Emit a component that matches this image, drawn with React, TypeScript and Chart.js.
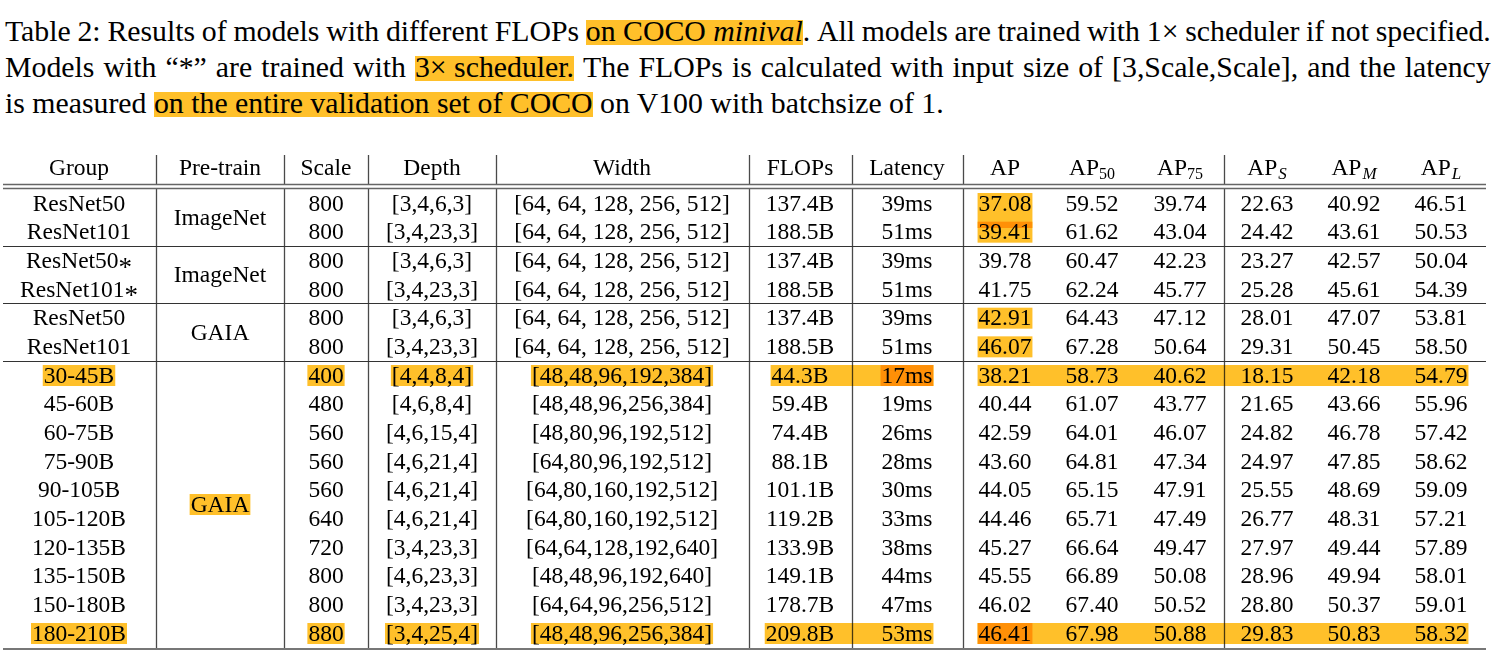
import React, { useEffect, useRef } from "react";
import { Chart, registerables } from "chart.js";
Chart.register(...registerables);

// ---------------- data ----------------
const headerLabels = ["Group", "Pre-train", "Scale", "Depth", "Width", "FLOPs", "Latency", "AP", "AP", "AP", "AP", "AP", "AP"];
const headerSubscripts = ["", "", "", "", "", "", "", "", "50", "75", "S", "M", "L"];
const headerSubItalic = [false, false, false, false, false, false, false, false, false, false, true, true, true];

const groupNames = ["ResNet50", "ResNet101", "ResNet50*", "ResNet101*", "ResNet50", "ResNet101",
  "30-45B", "45-60B", "60-75B", "75-90B", "90-105B", "105-120B", "120-135B", "135-150B", "150-180B", "180-210B"];
const pretrainNames = ["ImageNet", "ImageNet", "GAIA", "GAIA"];
const blockSpans = [[0, 1], [2, 3], [4, 5], [6, 15]];
const scaleValues = ["800", "800", "800", "800", "800", "800", "400", "480", "560", "560", "560", "640", "720", "800", "800", "880"];
const depthValues = ["[3,4,6,3]", "[3,4,23,3]", "[3,4,6,3]", "[3,4,23,3]", "[3,4,6,3]", "[3,4,23,3]",
  "[4,4,8,4]", "[4,6,8,4]", "[4,6,15,4]", "[4,6,21,4]", "[4,6,21,4]", "[4,6,21,4]", "[3,4,23,3]", "[4,6,23,3]", "[3,4,23,3]", "[3,4,25,4]"];
const widthValues = ["[64, 64, 128, 256, 512]", "[64, 64, 128, 256, 512]", "[64, 64, 128, 256, 512]", "[64, 64, 128, 256, 512]",
  "[64, 64, 128, 256, 512]", "[64, 64, 128, 256, 512]",
  "[48,48,96,192,384]", "[48,48,96,256,384]", "[48,80,96,192,512]", "[64,80,96,192,512]", "[64,80,160,192,512]",
  "[64,80,160,192,512]", "[64,64,128,192,640]", "[48,48,96,192,640]", "[64,64,96,256,512]", "[48,48,96,256,384]"];
const flopsValues = ["137.4B", "188.5B", "137.4B", "188.5B", "137.4B", "188.5B", "44.3B", "59.4B", "74.4B", "88.1B",
  "101.1B", "119.2B", "133.9B", "149.1B", "178.7B", "209.8B"];
const latencyValues = ["39ms", "51ms", "39ms", "51ms", "39ms", "51ms", "17ms", "19ms", "26ms", "28ms", "30ms", "33ms",
  "38ms", "44ms", "47ms", "53ms"];
const apValues = ["37.08", "39.41", "39.78", "41.75", "42.91", "46.07", "38.21", "40.44", "42.59", "43.60", "44.05", "44.46", "45.27", "45.55", "46.02", "46.41"];
const ap50Values = ["59.52", "61.62", "60.47", "62.24", "64.43", "67.28", "58.73", "61.07", "64.01", "64.81", "65.15", "65.71", "66.64", "66.89", "67.40", "67.98"];
const ap75Values = ["39.74", "43.04", "42.23", "45.77", "47.12", "50.64", "40.62", "43.77", "46.07", "47.34", "47.91", "47.49", "49.47", "50.08", "50.52", "50.88"];
const apSValues = ["22.63", "24.42", "23.27", "25.28", "28.01", "29.31", "18.15", "21.65", "24.82", "24.97", "25.55", "26.77", "27.97", "28.96", "28.80", "29.83"];
const apMValues = ["40.92", "43.61", "42.57", "45.61", "47.07", "50.45", "42.18", "43.66", "46.78", "47.85", "48.69", "48.31", "49.44", "49.94", "50.37", "50.83"];
const apLValues = ["46.51", "50.53", "50.04", "54.39", "53.81", "58.50", "54.79", "55.96", "57.42", "58.62", "59.09", "57.21", "57.89", "58.01", "59.01", "58.32"];

// highlighted cells: column index, item index in that column, optional band end column
const highlightMarks = [
  { col: 7, idx: 0, extraBottom: 14 }, { col: 7, idx: 1 }, { col: 7, idx: 4 }, { col: 7, idx: 5 },
  { col: 0, idx: 6 }, { col: 2, idx: 6 }, { col: 3, idx: 6 }, { col: 4, idx: 6 },
  { col: 5, idx: 6, toCol: 6 }, { col: 6, idx: 6 }, { col: 7, idx: 6, toCol: 12 },
  { col: 0, idx: 15 }, { col: 2, idx: 15 }, { col: 3, idx: 15 }, { col: 4, idx: 15 },
  { col: 5, idx: 15, toCol: 6 }, { col: 7, idx: 15 }, { col: 7, idx: 15, toCol: 12 },
  { col: 1, idx: 3 },
];

// caption (words of the justified lines; highlighted phrases kept whole)
const captionLine1 = ["Table", "2:", "Results", "of", "models", "with", "different", "FLOPs", "#on COCO |minival|#.", "All", "models", "are", "trained", "with", "1×", "scheduler", "if", "not", "specified."];
const captionLine2 = ["Models", "with", "“*”", "are", "trained", "with", "#3× scheduler.#", "The", "FLOPs", "is", "calculated", "with", "input", "size", "of", "[3,Scale,Scale],", "and", "the", "latency"];
const captionLine3 = ["is measured ", "#on the entire validation set of COCO#", " on V100 with batchsize of 1."];

// ---------------- layout / style ----------------
const W = 1498;
const CANVAS_TOP = 140;
const CANVAS_H = 524;
const COL_X = [79, 220, 326, 432, 622, 800, 907, 1005, 1092, 1180, 1267, 1354, 1441];
const COL_RULES = [156, 284, 368, 496, 749, 852, 963, 1224];
const HEADER_Y = -1.25;
const RULE_TOP = -1.674;
const DOUBLE_A = -0.663;
const DOUBLE_B = -0.523;
const BOTTOM_Y = 15.56;
const LINE_LEFT = 3;
const LINE_RIGHT = 1486;
const FS = 23.5;
const FONT = `${FS}px "Liberation Serif", "Times New Roman", serif`;
const HL = "#FFC02A";
const CAPTION_FS = 29.8;

const columns = [groupNames, pretrainNames, scaleValues, depthValues, widthValues, flopsValues, latencyValues,
  apValues, ap50Values, ap75Values, apSValues, apMValues, apLValues];

function rowPositions(col: number, n: number) {
  if (col === 1) return blockSpans.map(([a, b]) => (a + b) / 2);
  return Array.from({ length: n }, (_, i) => i);
}

const datasets: any[] = columns.map((vals, c) => {
  const ys = rowPositions(c, vals.length);
  return {
    label: headerLabels[c],
    data: vals.map((_, i) => ({ x: COL_X[c], y: ys[i] })),
    texts: vals,
    pointRadius: 0,
    pointHoverRadius: 0,
  };
});
datasets.push({
  label: "header",
  data: headerLabels.map((_, c) => ({ x: COL_X[c], y: HEADER_Y })),
  texts: headerLabels,
  subs: headerSubscripts,
  pointRadius: 0,
  pointHoverRadius: 0,
});

function drawBodyText(ctx: CanvasRenderingContext2D, t: string, cx: number, base: number) {
  ctx.font = FONT;
  if (t.endsWith("*")) {
    const main = t.slice(0, -1);
    const w1 = ctx.measureText(main).width;
    ctx.font = `27px "Liberation Serif", serif`;
    const w2 = ctx.measureText("*").width;
    const x0 = cx - (w1 + w2) / 2;
    ctx.textAlign = "left";
    ctx.font = FONT;
    ctx.fillText(main, x0, base);
    ctx.font = `27px "Liberation Serif", serif`;
    ctx.fillText("*", x0 + w1, base + 7.5);
    return;
  }
  ctx.textAlign = "center";
  ctx.fillText(t, cx, base);
}

const tablePlugin = {
  id: "tablePlugin",
  beforeDatasetsDraw(chart: any) {
    const ctx: CanvasRenderingContext2D = chart.ctx;
    const ys = chart.scales.y;
    const py = (v: number) => ys.getPixelForValue(v);
    ctx.save();
    ctx.strokeStyle = "#4a4a4a";
    ctx.lineWidth = 1.3;
    COL_RULES.forEach((x) => {
      const xx = Math.round(x) + 0.5;
      ctx.beginPath();
      ctx.moveTo(xx, py(RULE_TOP));
      ctx.lineTo(xx, py(DOUBLE_A));
      ctx.moveTo(xx, py(DOUBLE_B));
      ctx.lineTo(xx, py(BOTTOM_Y));
      ctx.stroke();
    });
    ctx.strokeStyle = "#666";
    ctx.lineWidth = 1.5;
    [DOUBLE_A, DOUBLE_B].forEach((v) => {
      const y = Math.round(py(v)) + 0.5;
      ctx.beginPath();
      ctx.moveTo(LINE_LEFT, y);
      ctx.lineTo(LINE_RIGHT, y);
      ctx.stroke();
    });
    ctx.strokeStyle = "#333";
    ctx.lineWidth = 1.2;
    blockSpans.slice(0, -1).forEach(([, b]) => {
      const y = Math.round(py(b + 0.5)) + 0.5;
      ctx.beginPath();
      ctx.moveTo(LINE_LEFT, y);
      ctx.lineTo(LINE_RIGHT, y);
      ctx.stroke();
    });
    ctx.strokeStyle = "#777";
    ctx.lineWidth = 2;
    const yb = Math.round(py(BOTTOM_Y));
    ctx.beginPath();
    ctx.moveTo(LINE_LEFT, yb);
    ctx.lineTo(LINE_RIGHT, yb);
    ctx.stroke();

    ctx.font = FONT;
    ctx.globalCompositeOperation = "multiply";
    ctx.fillStyle = HL;
    const extent = (c: number, i: number) => {
      const el = chart.getDatasetMeta(c).data[i];
      const t = chart.data.datasets[c].texts[i];
      const w = ctx.measureText(t).width;
      return { l: el.x - w / 2, r: el.x + w / 2, y: el.y };
    };
    highlightMarks.forEach((m: any) => {
      const a = extent(m.col, m.idx);
      const b = m.toCol !== undefined ? extent(m.toCol, m.idx) : a;
      const top = a.y - 10;
      const bottom = a.y + 11 + (m.extraBottom || 0);
      ctx.fillRect(a.l - 1, top, b.r - a.l + 2, bottom - top);
    });
    ctx.restore();
  },
  afterDatasetsDraw(chart: any) {
    const ctx: CanvasRenderingContext2D = chart.ctx;
    ctx.save();
    ctx.fillStyle = "#000";
    ctx.textBaseline = "alphabetic";
    chart.data.datasets.forEach((ds: any, di: number) => {
      const meta = chart.getDatasetMeta(di);
      meta.data.forEach((el: any, i: number) => {
        const t = ds.texts[i];
        const sub = ds.subs ? ds.subs[i] : "";
        const base = el.y + 0.33 * FS;
        if (!sub) {
          drawBodyText(ctx, t, el.x, base);
        } else {
          const subFont = `${headerSubItalic[i] ? "italic " : ""}${headerSubItalic[i] ? 17 : 16}px "Liberation Serif", serif`;
          ctx.font = FONT;
          const w1 = ctx.measureText(t).width;
          ctx.font = subFont;
          const w2 = ctx.measureText(sub).width;
          const gap = headerSubItalic[i] ? 1 : 0;
          const x0 = el.x - (w1 + w2 + gap) / 2;
          ctx.textAlign = "left";
          ctx.font = FONT;
          ctx.fillText(t, x0, base);
          ctx.font = subFont;
          ctx.fillText(sub, x0 + w1 + gap, base + 4);
        }
      });
    });
    ctx.restore();
  },
};

const markStyle: React.CSSProperties = {
  background: `linear-gradient(to bottom, transparent 6px, ${HL} 6px, ${HL} 31.5px, transparent 31.5px)`,
};

// "#...#" marks a highlighted phrase, "|...|" italic
function renderWord(w: string, key: number) {
  const parts = w.split("#");
  return (
    <span key={key}>
      {parts.map((p, i) => {
        const inner = p.split("|").map((q, j) => (j % 2 === 1 ? <i key={j}>{q}</i> : <React.Fragment key={j}>{q}</React.Fragment>));
        return i % 2 === 1 ? <span key={i} style={markStyle}>{inner}</span> : <React.Fragment key={i}>{inner}</React.Fragment>;
      })}
    </span>
  );
}

export default function App() {
  const ref = useRef<HTMLCanvasElement>(null);
  useEffect(() => {
    const chart = new Chart(ref.current as HTMLCanvasElement, {
      type: "scatter",
      data: { datasets },
      options: {
        responsive: false,
        animation: false,
        devicePixelRatio: 1,
        events: [],
        layout: { padding: 0 },
        plugins: { legend: { display: false }, tooltip: { enabled: false }, title: { display: false } },
        scales: {
          x: { type: "linear", min: 0, max: W, display: false },
          y: { type: "linear", min: -2.198, max: 16.081, reverse: true, display: false },
        },
      },
      plugins: [tablePlugin],
    } as any);
    return () => chart.destroy();
  }, []);

  const flexLine: React.CSSProperties = { display: "flex", justifyContent: "space-between", whiteSpace: "pre", height: 36 };
  return (
    <div style={{ position: "absolute", left: 0, top: 0, width: W, height: 664, background: "#fff", overflow: "hidden" }}>
      <div style={{ position: "absolute", left: 5, top: 13, width: 1486, fontFamily: '"Liberation Serif", "Times New Roman", serif', fontSize: CAPTION_FS, lineHeight: "36px", color: "#000" }}>
        <div style={flexLine}>{captionLine1.map(renderWord)}</div>
        <div style={flexLine}>{captionLine2.map(renderWord)}</div>
        <div style={{ whiteSpace: "pre", height: 36 }}>{captionLine3.map(renderWord)}</div>
      </div>
      <canvas ref={ref} width={W} height={CANVAS_H} style={{ position: "absolute", left: 0, top: CANVAS_TOP, width: W, height: CANVAS_H }} />
    </div>
  );
}
